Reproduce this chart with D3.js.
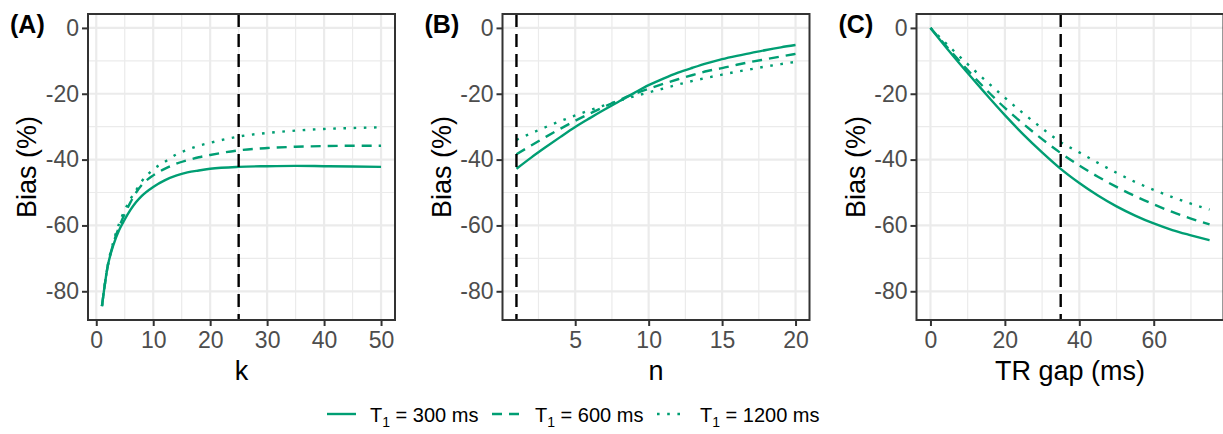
<!DOCTYPE html>
<html>
  <head>
    <script src="https://cdnjs.cloudflare.com/ajax/libs/d3/7.8.5/d3.min.js" charset="utf-8"></script>
    <style type="text/css">
      body {
        margin: 0;
        background: #fff;
        font-family: "Liberation Sans", Arial, Helvetica, sans-serif;
      }
      .tick text { fill: #4d4d4d; font-size: 23px; font-family: "Liberation Sans", Arial, sans-serif; }
      .tick line { stroke: #333; stroke-width: 2px; }
    </style>
  </head>
  <body>
    <script type="text/javascript">
      // ---- data ----
      var seriesNames = ["300", "600", "1200"];   // T1 in ms

      // panel A: bias vs k
      var kValues   = [1, 2, 3, 4, 5, 6, 7, 8, 10, 12, 14, 16, 18, 20, 25, 30, 35, 40, 45, 50];
      var biasK300  = [-84.5, -72.5, -66, -61.5, -58.2, -55.3, -52.9, -51, -48.3, -46.3, -44.9, -43.9, -43.3, -42.8, -42.2, -42, -41.9, -42, -42.1, -42.2];
      var biasK600  = [-84.5, -72.5, -65.5, -60.5, -56.5, -53, -50, -47.7, -44.8, -42.8, -41.3, -40.2, -39.3, -38.6, -37.2, -36.5, -36.1, -35.9, -35.8, -35.8];
      var biasK1200 = [-84.5, -72.3, -65, -59.5, -55.4, -52, -49.3, -46.6, -43, -40.7, -38.5, -37, -35.8, -34.9, -33, -31.9, -31.2, -30.7, -30.4, -30.2];

      // panel B: bias vs n
      var nValues   = [1, 2, 3, 4, 5, 6, 7, 8, 9, 10, 11, 12, 13, 14, 15, 16, 17, 18, 19, 20];
      var biasN300  = [-42.8, -39.4, -36.2, -33.1, -30.1, -27.4, -24.8, -22.3, -19.8, -17.4, -15.4, -13.6, -12.1, -10.7, -9.5, -8.5, -7.6, -6.7, -5.9, -5.2];
      var biasN600  = [-38.4, -35.7, -33.1, -30.6, -28.2, -26, -23.9, -21.9, -20.1, -18.5, -17, -15.6, -14.3, -13.1, -12.2, -11.2, -10.3, -9.5, -8.7, -7.9];
      var biasN1200 = [-34, -32, -30.1, -28.3, -26.6, -25, -23.5, -22.1, -20.8, -19.6, -18.4, -17.2, -16.1, -15.1, -14.2, -13.3, -12.5, -11.7, -11, -10.3];

      // panel C: bias vs TR gap (ms)
      var gapValues   = [0, 5, 10, 15, 20, 25, 30, 35, 40, 45, 50, 55, 60, 65, 70, 75];
      var biasGap300  = [0, -7, -13.7, -20.2, -26.5, -32.4, -37.8, -42.8, -47.1, -50.9, -54.2, -57, -59.4, -61.4, -63, -64.5];
      var biasGap600  = [0, -6.5, -12.8, -18.8, -24.3, -29.2, -33.8, -38, -41.8, -45.2, -48.3, -51.1, -53.6, -55.9, -57.9, -59.7];
      var biasGap1200 = [0, -5.6, -11, -16.2, -21.2, -26, -30.5, -34.7, -37.8, -41, -44, -46.8, -49.2, -51.4, -53.4, -55.2];

      // ticks and reference lines
      var yTicks   = [0, -20, -40, -60, -80];
      var kTicks   = [0, 10, 20, 30, 40, 50];
      var nTicks   = [5, 10, 15, 20];
      var gapTicks = [0, 20, 40, 60];
      var kMarker = 25, nMarker = 1, gapMarker = 35;

      // ---- layout ----
      var w = 1223, h = 434,
          plotTop = 14, plotBottom = 320,
          pw = 307,
          green = "#009E73",
          dashes = [null, "10,7", "2.6,7.6"];

      var svg = d3.select("body").append("svg")
          .attr("width", w)
          .attr("height", h);

      var panels = [
        { tag: "(A)", left: 88,    xs: kValues,   ys: [biasK300, biasK600, biasK1200],       ticks: kTicks,   marker: kMarker,   title: "k" },
        { tag: "(B)", left: 502.5, xs: nValues,   ys: [biasN300, biasN600, biasN1200],       ticks: nTicks,   marker: nMarker,   title: "n" },
        { tag: "(C)", left: 916.5, xs: gapValues, ys: [biasGap300, biasGap600, biasGap1200], ticks: gapTicks, marker: gapMarker, title: "TR gap (ms)" }
      ];

      // ggplot style 5% expansion
      function expand(ext) {
        var r = ext[1] - ext[0];
        return [ext[0] - 0.05 * r, ext[1] + 0.05 * r];
      }

      // shared y scale over all panels
      var allY = [];
      panels.forEach(function(p) { p.ys.forEach(function(s) { allY = allY.concat(s); }); });
      var yScale = d3.scaleLinear()
          .domain(expand(d3.extent(allY)))
          .range([plotBottom, plotTop]);

      // minor y breaks halfway between major ones
      var yMinor = [];
      for (var i = 0; i < yTicks.length - 1; i++) yMinor.push((yTicks[i] + yTicks[i + 1]) / 2);

      panels.forEach(function(p) {
        var xScale = d3.scaleLinear()
            .domain(expand(d3.extent(p.xs)))
            .range([0, pw]);

        var step = p.ticks[1] - p.ticks[0];
        var xMinor = [];
        for (var j = 0; j < p.ticks.length - 1; j++) xMinor.push(p.ticks[j] + step / 2);
        if (p.ticks[0] - step / 2 > xScale.domain()[0]) xMinor.push(p.ticks[0] - step / 2);
        if (p.ticks[p.ticks.length - 1] + step / 2 < xScale.domain()[1]) xMinor.push(p.ticks[p.ticks.length - 1] + step / 2);

        var g = svg.append("g").attr("transform", "translate(" + [p.left, 0] + ")");

        // grid
        g.selectAll(".minx").data(xMinor).enter().append("line")
          .attr("x1", function(d) { return xScale(d); }).attr("x2", function(d) { return xScale(d); })
          .attr("y1", plotTop).attr("y2", plotBottom)
          .attr("stroke", "#ebebeb").attr("stroke-width", 1.2);
        g.selectAll(".miny").data(yMinor).enter().append("line")
          .attr("x1", 0).attr("x2", pw)
          .attr("y1", function(d) { return yScale(d); }).attr("y2", function(d) { return yScale(d); })
          .attr("stroke", "#ebebeb").attr("stroke-width", 1.2);
        g.selectAll(".majx").data(p.ticks).enter().append("line")
          .attr("x1", function(d) { return xScale(d); }).attr("x2", function(d) { return xScale(d); })
          .attr("y1", plotTop).attr("y2", plotBottom)
          .attr("stroke", "#ebebeb").attr("stroke-width", 2.2);
        g.selectAll(".majy").data(yTicks).enter().append("line")
          .attr("x1", 0).attr("x2", pw)
          .attr("y1", function(d) { return yScale(d); }).attr("y2", function(d) { return yScale(d); })
          .attr("stroke", "#ebebeb").attr("stroke-width", 2.2);

        // the three T1 curves
        var line = d3.line()
            .x(function(d) { return xScale(d[0]); })
            .y(function(d) { return yScale(d[1]); })
            .curve(d3.curveMonotoneX);

        p.ys.forEach(function(s, si) {
          g.append("path")
            .datum(p.xs.map(function(x, k) { return [x, s[k]]; }))
            .attr("d", line)
            .attr("fill", "none")
            .attr("stroke", green)
            .attr("stroke-width", 2.4)
            .attr("stroke-dasharray", dashes[si]);
        });

        // reference line
        g.append("line")
          .attr("x1", xScale(p.marker)).attr("x2", xScale(p.marker))
          .attr("y1", plotTop).attr("y2", plotBottom)
          .attr("stroke", "#000").attr("stroke-width", 2.4)
          .attr("stroke-dasharray", "13,7");

        // border
        g.append("rect")
          .attr("x", 0).attr("y", plotTop)
          .attr("width", pw).attr("height", plotBottom - plotTop)
          .attr("fill", "none").attr("stroke", "#333").attr("stroke-width", 2);

        // axes
        g.append("g")
          .attr("transform", "translate(0," + plotBottom + ")")
          .call(d3.axisBottom(xScale).tickValues(p.ticks).tickSize(6).tickPadding(6)
                  .tickFormat(function(d) { return String(d); }))
          .call(function(a) { a.select(".domain").remove(); });

        g.append("g")
          .call(d3.axisLeft(yScale).tickValues(yTicks).tickSize(6).tickPadding(3)
                  .tickFormat(function(d) { return String(d); }))
          .call(function(a) { a.select(".domain").remove(); });

        // titles
        g.append("text")
          .attr("x", pw / 2).attr("y", 380)
          .attr("text-anchor", "middle")
          .attr("font-size", "27px")
          .text(p.title);

        g.append("text")
          .attr("transform", "translate(" + [-52, (plotTop + plotBottom) / 2] + ") rotate(-90)")
          .attr("text-anchor", "middle")
          .attr("font-size", "27px")
          .text("Bias (%)");

        g.append("text")
          .attr("x", -78).attr("y", 33)
          .attr("font-size", "25px")
          .attr("font-weight", "bold")
          .text(p.tag);
      });

      // legend
      var legendX = [327, 492, 657], legendY = 414;
      seriesNames.forEach(function(name, i) {
        var lg = svg.append("g").attr("transform", "translate(" + [legendX[i], legendY] + ")");
        lg.append("line")
          .attr("x1", 0).attr("x2", 29)
          .attr("stroke", green).attr("stroke-width", 2.4)
          .attr("stroke-dasharray", dashes[i]);
        var t = lg.append("text")
          .attr("x", 43).attr("y", 8)
          .attr("font-size", "20px")
          .attr("fill", "#000");
        t.append("tspan").text("T");
        t.append("tspan").attr("font-size", "14px").attr("dy", 5).text("1");
        t.append("tspan").attr("dy", -5).text(" = " + name + " ms");
      });
    </script>
  </body>
</html>
